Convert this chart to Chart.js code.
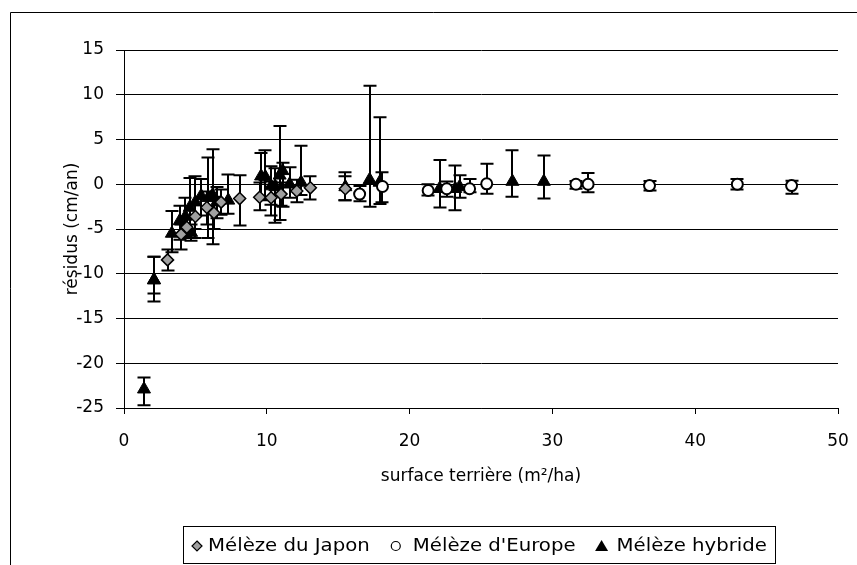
<!DOCTYPE html>
<html>
<head>
<meta charset="utf-8">
<script src="https://cdn.jsdelivr.net/npm/chart.js@4.4.1/dist/chart.umd.min.js"></script>
<style>
  html, body { margin: 0; padding: 0; background: #fff; }
  canvas { display: block; }
</style>
</head>
<body>
<canvas id="residus" width="857" height="565"></canvas>
<script>
// Mélèze du Japon
const japonX  = [3.05, 4.0, 4.4, 5.0, 5.8, 6.3, 6.8, 8.1, 9.5, 10.3, 11.0, 12.1, 13.05, 15.5];
const japonY  = [-8.45, -5.6, -4.8, -3.6, -2.6, -3.2, -2.0, -1.6, -1.45, -1.5, -1.1, -0.75, -0.4, -0.5];
const japonLo = [-9.65, -7.3, -6.0, -5.0, -4.5, -5.0, -3.4, -4.6, -2.9, -3.5, -2.4, -2.0, -1.7, -1.8];
const japonHi = [-7.3, -4.5, -3.6, -2.3, -0.8, -1.4, -0.6, 1.0, 0.2, 0.3, 0.2, 0.5, 0.9, 0.9];

// Mélèze d'Europe
const europeX  = [16.5, 18.1, 21.3, 22.6, 24.2, 25.4, 31.65, 32.5, 36.8, 42.95, 46.75];
const europeY  = [-1.1, -0.25, -0.7, -0.5, -0.5, 0.05, 0, 0, -0.15, 0, -0.15];
const europeLo = [-1.9, -2.0, -1.25, -1.4, -0.9, -1.06, -0.5, -0.9, -0.7, -0.6, -1.06];
const europeHi = [-0.2, 1.35, 0.0, 0.3, 0.6, 2.3, 0.35, 1.25, 0.35, 0.6, 0.4];

// Mélèze hybride
const hybrideX  = [1.4, 2.1, 2.1, 3.35, 3.9, 4.3, 4.6, 4.7, 5.0, 5.4, 5.9, 6.2, 6.5, 7.3, 9.6, 9.9, 10.3, 10.6, 10.9, 11.1, 11.6, 12.4, 15.5, 17.2, 17.9, 22.1, 23.2, 23.5, 27.2, 29.4];
const hybrideY  = [-22.9, -10.7, -10.7, -5.5, -4.1, -3.6, -2.6, -5.4, -2.0, -1.3, -1.5, -1.2, -2.0, -1.8, 0.9, 0.8, -0.2, -0.3, 1.0, 1.5, 0.0, 0.2, -0.3, 0.5, 0.2, -0.5, -0.5, -0.3, 0.3, 0.3];
const hybrideLo = [-24.7, -13.1, -12.2, -7.6, -6.2, -5.8, -5.0, -6.3, -6.0, -3.5, -6.0, -6.7, -3.8, -3.3, -1.5, -1.8, -2.3, -4.3, -4.0, -2.5, -1.5, -1.2, -1.8, -2.5, -2.2, -2.6, -2.9, -1.5, -1.4, -1.6];
const hybrideHi = [-21.6, -8.1, -8.1, -3.0, -2.4, -1.5, 0.7, -4.5, 0.9, 0.6, 3.0, 3.9, -0.3, 1.1, 3.5, 3.8, 2.0, 1.8, 6.5, 2.4, 1.9, 4.3, 1.35, 11.0, 7.5, 2.7, 2.1, 1.0, 3.8, 3.2];

const xTicks = [0, 10, 20, 30, 40, 50];
const yTicks = [-25, -20, -15, -10, -5, 0, 5, 10, 15];

const FONT = 'DejaVu Sans';

function points(xs, ys) {
  return xs.map((x, i) => ({ x: x, y: ys[i] }));
}

// vertical error bars with caps, drawn under each series' markers
const errorBars = {
  id: 'errorBars',
  beforeDatasetDraw(chart, args) {
    const ds = chart.data.datasets[args.index];
    if (!ds.errLo) return;
    const { ctx, scales: { x, y } } = chart;
    ctx.save();
    ctx.strokeStyle = '#000';
    ctx.lineWidth = 2;
    ds.data.forEach((p, i) => {
      const px = Math.round(x.getPixelForValue(p.x));
      const lo = y.getPixelForValue(ds.errLo[i]);
      const hi = y.getPixelForValue(ds.errHi[i]);
      ctx.beginPath();
      ctx.moveTo(px, lo);
      ctx.lineTo(px, hi);
      ctx.moveTo(px - 6.5, lo);
      ctx.lineTo(px + 6.5, lo);
      ctx.moveTo(px - 6.5, hi);
      ctx.lineTo(px + 6.5, hi);
      ctx.stroke();
    });
    ctx.restore();
  }
};

// outer frame + boxed legend under the axis title
const frameAndLegend = {
  id: 'frameAndLegend',
  afterDraw(chart) {
    const ctx = chart.ctx;
    ctx.save();
    ctx.strokeStyle = '#000';
    ctx.lineWidth = 1;
    ctx.beginPath();
    ctx.moveTo(10.5, 565);
    ctx.lineTo(10.5, 12.5);
    ctx.lineTo(857, 12.5);
    ctx.stroke();

    ctx.strokeRect(183.5, 526.5, 592, 37);

    const stretch = 1.16;
    ctx.font = '17px "' + FONT + '"';
    ctx.fillStyle = '#000';
    ctx.textBaseline = 'middle';
    const cy = 546;
    let x = 197;
    chart.data.datasets.forEach((ds, k) => {
      ctx.save();
      ctx.lineWidth = 1.2;
      ctx.strokeStyle = '#000';
      ctx.fillStyle = ds.backgroundColor;
      ctx.beginPath();
      if (ds.pointStyle === 'rectRot') {
        ctx.moveTo(x, cy - 5); ctx.lineTo(x + 5, cy); ctx.lineTo(x, cy + 5); ctx.lineTo(x - 5, cy);
        ctx.closePath(); ctx.fill(); ctx.stroke();
      } else if (ds.pointStyle === 'circle') {
        ctx.arc(x, cy, 4.5, 0, Math.PI * 2); ctx.fill(); ctx.stroke();
      } else {
        ctx.moveTo(x, cy - 6); ctx.lineTo(x + 6.5, cy + 5); ctx.lineTo(x - 6.5, cy + 5);
        ctx.closePath(); ctx.fill();
      }
      ctx.restore();
      const tx = x + [11, 17, 15][k];
      ctx.save();
      ctx.translate(tx, cy + 1);
      ctx.scale(stretch, 1);
      ctx.fillText(ds.label, 0, 0);
      ctx.restore();
      x = tx + ctx.measureText(ds.label).width * stretch + 26;
    });
    ctx.restore();
  }
};

new Chart(document.getElementById('residus'), {
  type: 'scatter',
  data: {
    datasets: [
      {
        label: 'Mélèze du Japon',
        data: points(japonX, japonY),
        errLo: japonLo, errHi: japonHi,
        pointStyle: 'rectRot', pointRadius: 6,
        backgroundColor: '#a0a0a0', borderColor: '#000', borderWidth: 1.5
      },
      {
        label: "Mélèze d'Europe",
        data: points(europeX, europeY),
        errLo: europeLo, errHi: europeHi,
        pointStyle: 'circle', pointRadius: 5.5,
        backgroundColor: '#fff', borderColor: '#000', borderWidth: 2
      },
      {
        label: 'Mélèze hybride',
        data: points(hybrideX, hybrideY),
        errLo: hybrideLo, errHi: hybrideHi,
        pointStyle: 'triangle', pointRadius: 7.5,
        backgroundColor: '#000', borderColor: '#000', borderWidth: 1
      }
    ]
  },
  options: {
    responsive: false,
    animation: false,
    layout: { padding: { left: 62, right: 19, top: 50, bottom: 78 } },
    plugins: { legend: { display: false }, tooltip: { enabled: false } },
    scales: {
      x: {
        type: 'linear', min: 0, max: 50,
        afterBuildTicks: s => { s.ticks = xTicks.map(v => ({ value: v })); },
        afterFit: s => { s.height = 79; s.paddingLeft = 0; s.paddingRight = 0; },
        ticks: { color: '#000', padding: 17, font: { family: FONT, size: 17 } },
        grid: { drawOnChartArea: false, drawTicks: true, tickLength: 6, color: '#000' },
        border: { color: '#000', width: 1 },
        title: { display: true, text: 'surface terrière (m²/ha)', color: '#000', padding: 0, font: { family: FONT, size: 17 } }
      },
      y: {
        type: 'linear', min: -25, max: 15,
        afterBuildTicks: s => { s.ticks = yTicks.map(v => ({ value: v })); },
        afterFit: s => { s.width = 62; },
        ticks: { color: '#000', padding: 12, font: { family: FONT, size: 17 } },
        grid: { color: '#000', lineWidth: 1, tickLength: 8 },
        border: { color: '#000', width: 1 },
        title: { display: true, text: 'résidus (cm/an)', color: '#000', padding: 0, font: { family: FONT, size: 17 } }
      }
    }
  },
  plugins: [errorBars, frameAndLegend]
});
</script>
</body>
</html>
